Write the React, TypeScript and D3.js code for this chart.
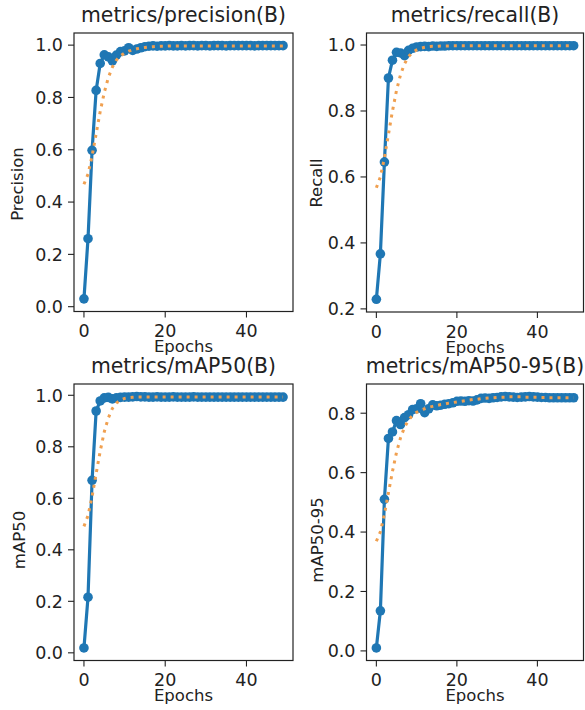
import * as d3 from 'd3'

const W = 585, H = 710

// epochs 0..49 are the array index
const PRECISION = [
  0.030, 0.260, 0.598, 0.827, 0.930, 0.963, 0.955, 0.940, 0.962, 0.975,
  0.978, 0.990, 0.980, 0.985, 0.990, 0.994, 0.996, 0.997, 0.996, 0.997,
  0.997, 0.998, 0.997, 0.997, 0.998, 0.997, 0.998, 0.998, 0.997, 0.998,
  0.998, 0.997, 0.998, 0.998, 0.998, 0.997, 0.998, 0.998, 0.998, 0.998,
  0.998, 0.998, 0.997, 0.998, 0.998, 0.998, 0.998, 0.998, 0.998, 0.998,
]
const PRECISION_SMOOTH = [
  0.468, 0.507, 0.576, 0.661, 0.746, 0.819, 0.876, 0.916, 0.943, 0.959,
  0.970, 0.977, 0.982, 0.986, 0.989, 0.991, 0.993, 0.994, 0.995, 0.996,
  0.996, 0.997, 0.997, 0.997, 0.997, 0.997, 0.997, 0.997, 0.997, 0.997,
  0.997, 0.997, 0.997, 0.997, 0.997, 0.997, 0.997, 0.997, 0.997, 0.997,
  0.997, 0.997, 0.997, 0.997, 0.997, 0.997, 0.997, 0.997, 0.997, 0.997,
]
const RECALL = [
  0.229, 0.367, 0.645, 0.900, 0.954, 0.978, 0.976, 0.968, 0.984, 0.990,
  0.994, 0.995, 0.996, 0.995, 0.997, 0.996, 0.997, 0.997, 0.998, 0.998,
  0.998, 0.998, 0.998, 0.998, 0.998, 0.998, 0.998, 0.998, 0.998, 0.998,
  0.998, 0.998, 0.998, 0.998, 0.998, 0.998, 0.998, 0.998, 0.998, 0.998,
  0.998, 0.998, 0.998, 0.998, 0.998, 0.998, 0.998, 0.998, 0.998, 0.998,
]
const RECALL_SMOOTH = [
  0.567, 0.600, 0.658, 0.729, 0.800, 0.862, 0.910, 0.943, 0.965, 0.978,
  0.985, 0.990, 0.993, 0.995, 0.996, 0.996, 0.997, 0.997, 0.997, 0.998,
  0.998, 0.998, 0.998, 0.998, 0.998, 0.998, 0.998, 0.998, 0.998, 0.998,
  0.998, 0.998, 0.998, 0.998, 0.998, 0.998, 0.998, 0.998, 0.998, 0.998,
  0.998, 0.998, 0.998, 0.998, 0.998, 0.998, 0.998, 0.998, 0.998, 0.998,
]
const MAP50 = [
  0.019, 0.216, 0.670, 0.939, 0.978, 0.990, 0.992, 0.986, 0.990, 0.992,
  0.993, 0.993, 0.994, 0.995, 0.994, 0.994, 0.993, 0.993, 0.994, 0.993,
  0.993, 0.993, 0.994, 0.993, 0.993, 0.993, 0.993, 0.994, 0.993, 0.993,
  0.993, 0.993, 0.993, 0.993, 0.993, 0.993, 0.993, 0.993, 0.993, 0.993,
  0.993, 0.993, 0.993, 0.993, 0.993, 0.993, 0.993, 0.993, 0.993, 0.993,
]
const MAP50_SMOOTH = [
  0.491, 0.533, 0.607, 0.696, 0.783, 0.858, 0.912, 0.949, 0.970, 0.982,
  0.988, 0.991, 0.992, 0.993, 0.993, 0.993, 0.993, 0.993, 0.993, 0.993,
  0.993, 0.993, 0.993, 0.993, 0.993, 0.993, 0.993, 0.993, 0.993, 0.993,
  0.993, 0.993, 0.993, 0.993, 0.993, 0.993, 0.993, 0.993, 0.993, 0.993,
  0.993, 0.993, 0.993, 0.993, 0.993, 0.993, 0.993, 0.993, 0.993, 0.993,
]
const MAP5095 = [
  0.010, 0.135, 0.510, 0.715, 0.737, 0.775, 0.762, 0.785, 0.795, 0.812,
  0.815, 0.832, 0.802, 0.815, 0.828, 0.825, 0.827, 0.830, 0.832, 0.835,
  0.840, 0.841, 0.840, 0.842, 0.841, 0.845, 0.850, 0.851, 0.850, 0.852,
  0.853, 0.855, 0.856, 0.855, 0.854, 0.853, 0.854, 0.855, 0.856, 0.855,
  0.854, 0.853, 0.853, 0.852, 0.852, 0.852, 0.852, 0.852, 0.852, 0.852,
]
const MAP5095_SMOOTH = [
  0.369, 0.401, 0.460, 0.532, 0.604, 0.668, 0.717, 0.753, 0.777, 0.793,
  0.803, 0.810, 0.815, 0.820, 0.823, 0.826, 0.829, 0.831, 0.834, 0.836,
  0.838, 0.840, 0.842, 0.844, 0.846, 0.847, 0.849, 0.850, 0.851, 0.852,
  0.853, 0.854, 0.854, 0.855, 0.855, 0.855, 0.855, 0.854, 0.854, 0.854,
  0.854, 0.853, 0.853, 0.852, 0.852, 0.852, 0.852, 0.852, 0.852, 0.852,
]

const X_TICKS = [0, 20, 40]
const Y_TICKS_FULL = [0, 0.2, 0.4, 0.6, 0.8, 1.0]
const Y_TICKS_RECALL = [0.2, 0.4, 0.6, 0.8, 1.0]
const Y_TICKS_MAP5095 = [0, 0.2, 0.4, 0.6, 0.8]

const TITLES = ['metrics/precision(B)', 'metrics/recall(B)', 'metrics/mAP50(B)', 'metrics/mAP50-95(B)']
const YLABELS = ['Precision', 'Recall', 'mAP50', 'mAP50-95']
const XLABEL = 'Epochs'

const FONT = 'DejaVu Sans, sans-serif'
const BLUE = '#1f77b4', ORANGE = '#f0a050', INK = '#222'

// axes boxes, label anchors
const LAYOUT = [
  { left: 74, right: 293, top: 33, bottom: 311.5, labX: 23, labY: 184 },
  { left: 366.5, right: 583.5, top: 33, bottom: 312, labX: 322, labY: 183 },
  { left: 74, right: 293, top: 384, bottom: 660.5, labX: 25, labY: 540 },
  { left: 366.5, right: 583.5, top: 384, bottom: 660.5, labX: 323, labY: 540 },
]

const SERIES = [
  { raw: PRECISION, smooth: PRECISION_SMOOTH, yTicks: Y_TICKS_FULL },
  { raw: RECALL, smooth: RECALL_SMOOTH, yTicks: Y_TICKS_RECALL },
  { raw: MAP50, smooth: MAP50_SMOOTH, yTicks: Y_TICKS_FULL },
  { raw: MAP5095, smooth: MAP5095_SMOOTH, yTicks: Y_TICKS_MAP5095 },
]

function padDomain([a, b]: [number, number]) {
  const m = (b - a) * 0.05
  return [a - m, b + m]
}

function Panel({ i }: { i: number }) {
  const box = LAYOUT[i]
  const { raw, smooth, yTicks } = SERIES[i]
  const x = d3.scaleLinear(padDomain([0, raw.length - 1]), [box.left, box.right])
  const all = raw.concat(smooth)
  const y = d3.scaleLinear(padDomain(d3.extent(all) as [number, number]), [box.bottom, box.top])
  const line = d3.line<number>().x((_, k) => x(k)).y(v => y(v))

  return (
    <g fontFamily={FONT} fill={INK}>
      <path d={line(raw) || ''} fill="none" stroke={BLUE} strokeWidth={3.2} strokeLinejoin="round" />
      {raw.map((v, k) => (
        <circle key={k} cx={x(k)} cy={y(v)} r={4.8} fill={BLUE} />
      ))}
      <path d={line(smooth) || ''} fill="none" stroke={ORANGE} strokeWidth={3} strokeDasharray="3 5" />
      <rect x={box.left} y={box.top} width={box.right - box.left} height={box.bottom - box.top}
        fill="none" stroke={INK} strokeWidth={1.2} />
      {yTicks.map(t => (
        <g key={t}>
          <line x1={box.left - 6} x2={box.left} y1={y(t)} y2={y(t)} stroke={INK} strokeWidth={1.1} />
          <text x={box.left - 11} y={y(t)} dy="0.36em" textAnchor="end" fontSize={17.5}>{t.toFixed(1)}</text>
        </g>
      ))}
      {X_TICKS.map(t => (
        <g key={t}>
          <line x1={x(t)} x2={x(t)} y1={box.bottom} y2={box.bottom + 6} stroke={INK} strokeWidth={1.1} />
          <text x={x(t)} y={box.bottom + 25.5} textAnchor="middle" fontSize={17.5}>{t}</text>
        </g>
      ))}
      <text x={(box.left + box.right) / 2} y={box.bottom + 40.5} textAnchor="middle" fontSize={16.5}>{XLABEL}</text>
      <text transform={`translate(${box.labX},${box.labY}) rotate(-90)`} textAnchor="middle" fontSize={16.5}>{YLABELS[i]}</text>
      <text x={(box.left + box.right) / 2} y={box.top - 11} textAnchor="middle" fontSize={20.4}>{TITLES[i]}</text>
    </g>
  )
}

export default function App() {
  return (
    <>
      <style>{'body{margin:0}'}</style>
      <svg width={W} height={H} viewBox={`0 0 ${W} ${H}`} style={{ display: 'block', background: '#fff' }}>
        {[0, 1, 2, 3].map(i => <Panel key={i} i={i} />)}
      </svg>
    </>
  )
}
